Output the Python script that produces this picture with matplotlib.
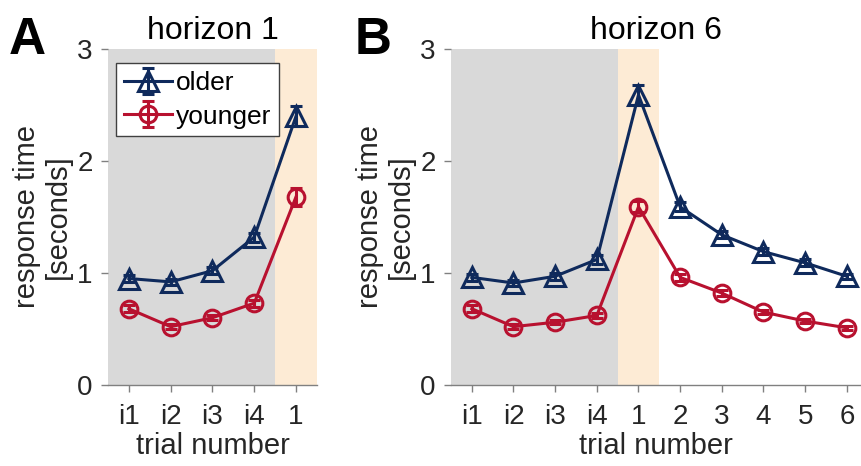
import numpy as np
import matplotlib.pyplot as plt

plt.rcParams['font.family'] = ['Liberation Sans', 'DejaVu Sans']

# datos
etiquetas_h1 = ['i1', 'i2', 'i3', 'i4', '1']
etiquetas_h6 = ['i1', 'i2', 'i3', 'i4', '1', '2', '3', '4', '5', '6']

older_h1 = [0.95, 0.92, 1.02, 1.32, 2.40]
older_h1_err = [0.03, 0.03, 0.03, 0.04, 0.09]
younger_h1 = [0.68, 0.52, 0.60, 0.73, 1.68]
younger_h1_err = [0.03, 0.02, 0.02, 0.03, 0.08]

older_h6 = [0.96, 0.91, 0.97, 1.12, 2.59, 1.59, 1.34, 1.19, 1.09, 0.97]
older_h6_err = [0.03, 0.03, 0.03, 0.04, 0.09, 0.04, 0.03, 0.03, 0.03, 0.02]
younger_h6 = [0.68, 0.52, 0.56, 0.62, 1.59, 0.96, 0.82, 0.65, 0.57, 0.51]
younger_h6_err = [0.03, 0.02, 0.02, 0.02, 0.05, 0.03, 0.03, 0.02, 0.02, 0.02]

azul = '#0f2a5c'
rojo = '#b8112f'
gris = '#d9d9d9'
naranja = '#fdebd5'
eje = '#262626'

fig = plt.figure(figsize=(8.61, 4.66), dpi=100)
ax1 = fig.add_axes([0.1254, 0.174, 0.2427, 0.721])
ax2 = fig.add_axes([0.5238, 0.174, 0.4762, 0.721])


def panel(ax, etiquetas, old, old_e, young, young_e, xmax, titulo):
    x = np.arange(1, len(etiquetas) + 1)
    ax.axvspan(0.5, 4.5, color=gris, lw=0, zorder=0)
    ax.axvspan(4.5, 5.5, color=naranja, lw=0, zorder=0)
    ax.errorbar(x, old, yerr=old_e, color=azul, lw=2.2, marker='^', ms=14,
                mfc='none', mew=2.2, capsize=4, capthick=2, label='older', zorder=3)
    ax.errorbar(x, young, yerr=young_e, color=rojo, lw=2.2, marker='o', ms=12,
                mfc='none', mew=2.2, capsize=4, capthick=2, label='younger', zorder=3)
    ax.set_xlim(0.5, xmax)
    ax.set_ylim(0, 3)
    ax.set_xticks(x)
    ax.set_xticklabels(etiquetas)
    ax.set_yticks([0, 1, 2, 3])
    for s in ['top', 'right', 'left']:
        ax.spines[s].set_visible(False)
    ax.spines['bottom'].set_color('#808080')
    ax.spines['bottom'].set_linewidth(1)
    ax.tick_params(direction='out', length=5, width=1, color='#808080',
                   labelsize=20, labelcolor=eje)
    ax.tick_params(axis='x', pad=9)
    ax.tick_params(axis='y', pad=6)
    ax.set_title(titulo, fontsize=23, color='black', pad=7)
    ax.set_xlabel('trial number', fontsize=21, color=eje, labelpad=1)
    ax.set_ylabel('response time\n[seconds]', fontsize=21, color=eje,
                  linespacing=1.1, labelpad=4)
    ax.patch.set_alpha(0)


panel(ax1, etiquetas_h1, older_h1, older_h1_err, younger_h1, younger_h1_err, 5.5, 'horizon 1')
panel(ax2, etiquetas_h6, older_h6, older_h6_err, younger_h6, younger_h6_err, 10.34, 'horizon 6')

leg = ax1.legend(loc='upper left', bbox_to_anchor=(0.04, 0.957), fontsize=19,
                 frameon=True, fancybox=False, edgecolor='#404040',
                 framealpha=1, handlelength=1.8, handletextpad=0.15,
                 borderpad=0.3, labelspacing=0.35, borderaxespad=0)
leg.get_frame().set_linewidth(1)

fig.text(0.010, 0.885, 'A', fontsize=37, fontweight='bold')
fig.text(0.412, 0.885, 'B', fontsize=37, fontweight='bold')

plt.savefig('out.png', dpi=100)
